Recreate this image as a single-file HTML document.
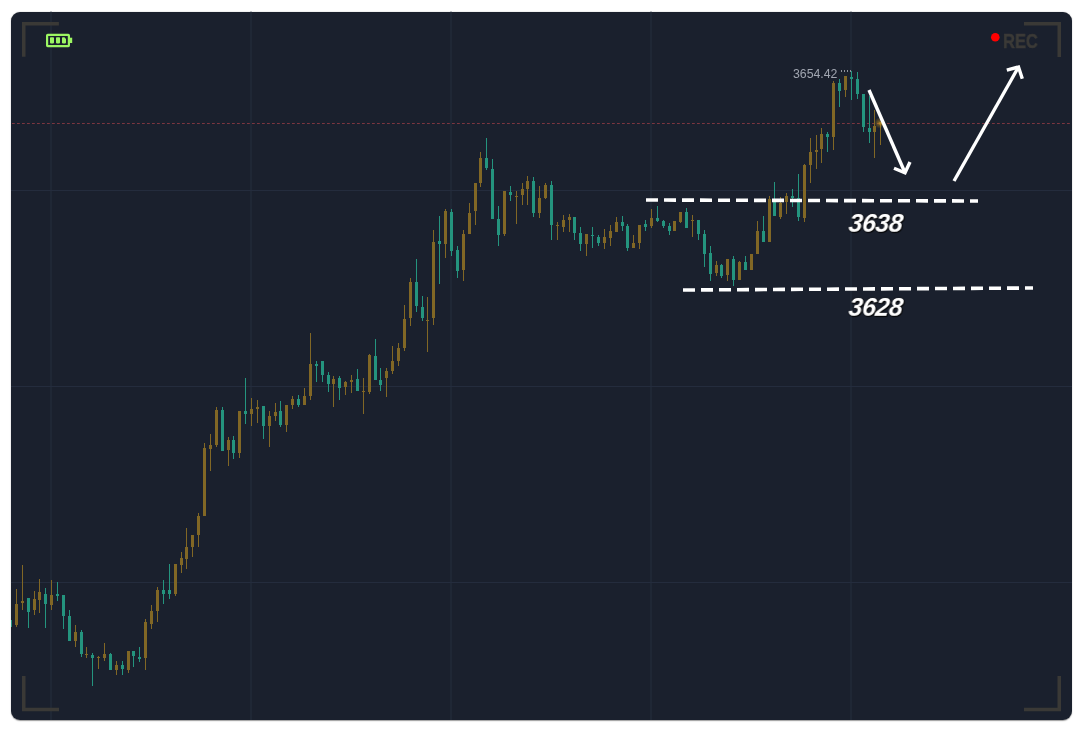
<!DOCTYPE html>
<html><head><meta charset="utf-8">
<style>
html,body{margin:0;padding:0;background:#ffffff;}
body{width:1083px;height:732px;position:relative;overflow:hidden;font-family:"Liberation Sans",sans-serif;}
.card{position:absolute;left:11px;top:11.5px;width:1061px;height:708.9px;background:#1a202d;border-radius:9px;box-shadow:0 0.3px 1.2px rgba(0,0,0,0.4);}
svg{position:absolute;left:0;top:0;}
.rec{position:absolute;font:bold 19.6px/1 "Liberation Sans",sans-serif;color:#3b3a37;-webkit-text-stroke:0.5px #3b3a37;transform-origin:0 0;transform:scaleX(0.84);will-change:transform;}
.lbl{position:absolute;font:italic bold 25px/1 "Liberation Sans",sans-serif;color:#ffffff;text-shadow:0 0 2px #000,1px 1px 1px #000;will-change:transform;transform-origin:0 20px;transform:skewX(-7deg);letter-spacing:-0.5px;}
.price{position:absolute;font:12.3px/1 "Liberation Sans",sans-serif;color:#a0a5b0;will-change:transform;}
</style></head><body>
<div class="card"></div>
<svg width="1083" height="732" viewBox="0 0 1083 732">
<defs>
<clipPath id="cc"><rect x="11" y="11.5" width="1061" height="708.9" rx="9"/></clipPath>
<radialGradient id="glow"><stop offset="0" stop-color="#e0a524" stop-opacity="0.6"/><stop offset="0.55" stop-color="#c8921c" stop-opacity="0.3"/><stop offset="1" stop-color="#c8921c" stop-opacity="0"/></radialGradient>
</defs>
<g clip-path="url(#cc)">
<g fill="#242f3e">
<rect x="50.5" y="11" width="1" height="709"/>
<rect x="250.5" y="11" width="1" height="709"/>
<rect x="450.5" y="11" width="1" height="709"/>
<rect x="650.5" y="11" width="1" height="709"/>
<rect x="850.5" y="11" width="1" height="709"/>
</g>
<g fill="#242c3d">
<rect x="11" y="190" width="1061" height="1"/>
<rect x="11" y="386" width="1061" height="1"/>
<rect x="11" y="582" width="1061" height="1"/>
</g>
<line x1="12" y1="123.5" x2="1072" y2="123.5" stroke="#7c3640" stroke-width="1" stroke-dasharray="2.8 2.2"/>
<g fill="#24947e"><rect x="10" y="620" width="1" height="7"/><rect x="9" y="620" width="3" height="7"/><rect x="28" y="598" width="1" height="30"/><rect x="27" y="598" width="3" height="14"/><rect x="45" y="588" width="1" height="40"/><rect x="44" y="594" width="3" height="10"/><rect x="57" y="582" width="1" height="19"/><rect x="56" y="594" width="3" height="2"/><rect x="63" y="595" width="1" height="34"/><rect x="62" y="595" width="3" height="21"/><rect x="69" y="610" width="1" height="31"/><rect x="68" y="616" width="3" height="25"/><rect x="81" y="630" width="1" height="27"/><rect x="80" y="632" width="3" height="22"/><rect x="92" y="653" width="1" height="33"/><rect x="91" y="655" width="3" height="3"/><rect x="110" y="653" width="1" height="17"/><rect x="109" y="654" width="3" height="16"/><rect x="122" y="661" width="1" height="14"/><rect x="121" y="665" width="3" height="4"/><rect x="133" y="651" width="1" height="16"/><rect x="132" y="651" width="3" height="5"/><rect x="139" y="647" width="1" height="15"/><rect x="138" y="657" width="3" height="2"/><rect x="163" y="580" width="1" height="24"/><rect x="162" y="590" width="3" height="4"/><rect x="169" y="564" width="1" height="35"/><rect x="168" y="590" width="3" height="4"/><rect x="222" y="407" width="1" height="44"/><rect x="221" y="410" width="3" height="41"/><rect x="233" y="436" width="1" height="23"/><rect x="232" y="440" width="3" height="13"/><rect x="245" y="378" width="1" height="46"/><rect x="244" y="411" width="3" height="3"/><rect x="263" y="406" width="1" height="33"/><rect x="262" y="406" width="3" height="20"/><rect x="280" y="401" width="1" height="26"/><rect x="279" y="411" width="3" height="14"/><rect x="298" y="395" width="1" height="12"/><rect x="297" y="399" width="3" height="6"/><rect x="316" y="361" width="1" height="21"/><rect x="315" y="364" width="3" height="2"/><rect x="322" y="361" width="1" height="21"/><rect x="321" y="361" width="3" height="14"/><rect x="328" y="372" width="1" height="20"/><rect x="327" y="375" width="3" height="9"/><rect x="339" y="376" width="1" height="24"/><rect x="338" y="378" width="3" height="10"/><rect x="357" y="369" width="1" height="22"/><rect x="356" y="379" width="3" height="12"/><rect x="375" y="339" width="1" height="41"/><rect x="374" y="356" width="3" height="24"/><rect x="380" y="368" width="1" height="23"/><rect x="379" y="380" width="3" height="5"/><rect x="416" y="259" width="1" height="53"/><rect x="415" y="282" width="3" height="24"/><rect x="422" y="296" width="1" height="25"/><rect x="421" y="307" width="3" height="11"/><rect x="439" y="216" width="1" height="68"/><rect x="438" y="241" width="3" height="3"/><rect x="451" y="209" width="1" height="47"/><rect x="450" y="212" width="3" height="39"/><rect x="457" y="246" width="1" height="32"/><rect x="456" y="250" width="3" height="21"/><rect x="486" y="138" width="1" height="32"/><rect x="485" y="158" width="3" height="10"/><rect x="492" y="159" width="1" height="60"/><rect x="491" y="169" width="3" height="50"/><rect x="498" y="206" width="1" height="40"/><rect x="497" y="219" width="3" height="16"/><rect x="510" y="186" width="1" height="15"/><rect x="509" y="192" width="3" height="3"/><rect x="533" y="177" width="1" height="40"/><rect x="532" y="181" width="3" height="32"/><rect x="551" y="181" width="1" height="59"/><rect x="550" y="185" width="3" height="40"/><rect x="574" y="217" width="1" height="23"/><rect x="573" y="217" width="3" height="16"/><rect x="580" y="227" width="1" height="24"/><rect x="579" y="233" width="3" height="11"/><rect x="592" y="227" width="1" height="21"/><rect x="591" y="235" width="3" height="1"/><rect x="598" y="235" width="1" height="11"/><rect x="597" y="237" width="3" height="6"/><rect x="622" y="216" width="1" height="15"/><rect x="621" y="222" width="3" height="4"/><rect x="627" y="224" width="1" height="27"/><rect x="626" y="226" width="3" height="22"/><rect x="645" y="220" width="1" height="11"/><rect x="644" y="224" width="3" height="3"/><rect x="657" y="206" width="1" height="16"/><rect x="656" y="218" width="3" height="3"/><rect x="663" y="220" width="1" height="8"/><rect x="662" y="221" width="3" height="5"/><rect x="669" y="223" width="1" height="12"/><rect x="668" y="226" width="3" height="5"/><rect x="686" y="208" width="1" height="20"/><rect x="685" y="212" width="3" height="16"/><rect x="698" y="220" width="1" height="20"/><rect x="697" y="220" width="3" height="14"/><rect x="704" y="230" width="1" height="37"/><rect x="703" y="234" width="3" height="20"/><rect x="710" y="246" width="1" height="35"/><rect x="709" y="253" width="3" height="21"/><rect x="721" y="264" width="1" height="14"/><rect x="720" y="265" width="3" height="11"/><rect x="733" y="256" width="1" height="30"/><rect x="732" y="259" width="3" height="21"/><rect x="745" y="256" width="1" height="14"/><rect x="744" y="262" width="3" height="8"/><rect x="763" y="216" width="1" height="26"/><rect x="762" y="231" width="3" height="11"/><rect x="774" y="182" width="1" height="34"/><rect x="773" y="201" width="3" height="15"/><rect x="792" y="189" width="1" height="18"/><rect x="791" y="196" width="3" height="2"/><rect x="798" y="174" width="1" height="47"/><rect x="797" y="198" width="3" height="19"/><rect x="827" y="132" width="1" height="20"/><rect x="826" y="134" width="3" height="3"/><rect x="839" y="79" width="1" height="28"/><rect x="838" y="83" width="3" height="8"/><rect x="851" y="71" width="1" height="29"/><rect x="850" y="77" width="3" height="2"/><rect x="857" y="72" width="1" height="27"/><rect x="856" y="79" width="3" height="15"/><rect x="863" y="94" width="1" height="38"/><rect x="862" y="94" width="3" height="33"/><rect x="869" y="96" width="1" height="47"/><rect x="868" y="128" width="3" height="4"/></g><g fill="#816725"><rect x="16" y="589" width="1" height="38"/><rect x="15" y="604" width="3" height="21"/><rect x="22" y="565" width="1" height="45"/><rect x="21" y="601" width="3" height="2"/><rect x="34" y="591" width="1" height="24"/><rect x="33" y="599" width="3" height="11"/><rect x="39" y="579" width="1" height="34"/><rect x="38" y="592" width="3" height="8"/><rect x="51" y="580" width="1" height="30"/><rect x="50" y="595" width="3" height="10"/><rect x="75" y="625" width="1" height="22"/><rect x="74" y="632" width="3" height="9"/><rect x="86" y="647" width="1" height="11"/><rect x="85" y="654" width="3" height="1"/><rect x="98" y="656" width="1" height="13"/><rect x="97" y="657" width="3" height="1"/><rect x="104" y="643" width="1" height="18"/><rect x="103" y="654" width="3" height="4"/><rect x="116" y="661" width="1" height="14"/><rect x="115" y="665" width="3" height="5"/><rect x="128" y="651" width="1" height="22"/><rect x="127" y="651" width="3" height="19"/><rect x="145" y="619" width="1" height="51"/><rect x="144" y="622" width="3" height="36"/><rect x="151" y="605" width="1" height="24"/><rect x="150" y="611" width="3" height="13"/><rect x="157" y="587" width="1" height="35"/><rect x="156" y="590" width="3" height="21"/><rect x="175" y="564" width="1" height="32"/><rect x="174" y="564" width="3" height="30"/><rect x="181" y="552" width="1" height="21"/><rect x="180" y="558" width="3" height="7"/><rect x="186" y="528" width="1" height="41"/><rect x="185" y="547" width="3" height="12"/><rect x="192" y="535" width="1" height="22"/><rect x="191" y="535" width="3" height="12"/><rect x="198" y="513" width="1" height="34"/><rect x="197" y="516" width="3" height="19"/><rect x="204" y="443" width="1" height="73"/><rect x="203" y="448" width="3" height="68"/><rect x="210" y="434" width="1" height="37"/><rect x="209" y="445" width="3" height="4"/><rect x="216" y="407" width="1" height="40"/><rect x="215" y="410" width="3" height="35"/><rect x="228" y="437" width="1" height="29"/><rect x="227" y="440" width="3" height="10"/><rect x="239" y="411" width="1" height="47"/><rect x="238" y="411" width="3" height="42"/><rect x="251" y="398" width="1" height="28"/><rect x="250" y="409" width="3" height="5"/><rect x="257" y="400" width="1" height="23"/><rect x="256" y="407" width="3" height="2"/><rect x="269" y="411" width="1" height="36"/><rect x="268" y="416" width="3" height="10"/><rect x="275" y="403" width="1" height="18"/><rect x="274" y="412" width="3" height="4"/><rect x="286" y="405" width="1" height="27"/><rect x="285" y="405" width="3" height="20"/><rect x="292" y="396" width="1" height="13"/><rect x="291" y="399" width="3" height="6"/><rect x="304" y="388" width="1" height="17"/><rect x="303" y="396" width="3" height="9"/><rect x="310" y="333" width="1" height="67"/><rect x="309" y="364" width="3" height="32"/><rect x="333" y="376" width="1" height="31"/><rect x="332" y="379" width="3" height="5"/><rect x="345" y="381" width="1" height="14"/><rect x="344" y="382" width="3" height="5"/><rect x="351" y="375" width="1" height="18"/><rect x="350" y="380" width="3" height="2"/><rect x="363" y="378" width="1" height="36"/><rect x="362" y="391" width="3" height="1"/><rect x="369" y="354" width="1" height="40"/><rect x="368" y="355" width="3" height="37"/><rect x="386" y="368" width="1" height="29"/><rect x="385" y="371" width="3" height="7"/><rect x="392" y="346" width="1" height="28"/><rect x="391" y="361" width="3" height="10"/><rect x="398" y="343" width="1" height="23"/><rect x="397" y="348" width="3" height="13"/><rect x="404" y="305" width="1" height="46"/><rect x="403" y="319" width="3" height="29"/><rect x="410" y="278" width="1" height="48"/><rect x="409" y="282" width="3" height="36"/><rect x="427" y="297" width="1" height="55"/><rect x="426" y="320" width="3" height="1"/><rect x="433" y="230" width="1" height="95"/><rect x="432" y="242" width="3" height="76"/><rect x="445" y="209" width="1" height="49"/><rect x="444" y="211" width="3" height="33"/><rect x="463" y="230" width="1" height="51"/><rect x="462" y="234" width="3" height="36"/><rect x="469" y="203" width="1" height="31"/><rect x="468" y="213" width="3" height="21"/><rect x="475" y="183" width="1" height="42"/><rect x="474" y="183" width="3" height="28"/><rect x="480" y="152" width="1" height="35"/><rect x="479" y="158" width="3" height="25"/><rect x="504" y="191" width="1" height="45"/><rect x="503" y="191" width="3" height="43"/><rect x="516" y="191" width="1" height="33"/><rect x="515" y="196" width="3" height="1"/><rect x="522" y="183" width="1" height="22"/><rect x="521" y="189" width="3" height="6"/><rect x="527" y="176" width="1" height="29"/><rect x="526" y="181" width="3" height="8"/><rect x="539" y="186" width="1" height="32"/><rect x="538" y="198" width="3" height="15"/><rect x="545" y="183" width="1" height="16"/><rect x="544" y="185" width="3" height="13"/><rect x="557" y="222" width="1" height="18"/><rect x="556" y="225" width="3" height="1"/><rect x="563" y="215" width="1" height="17"/><rect x="562" y="220" width="3" height="7"/><rect x="569" y="214" width="1" height="18"/><rect x="568" y="217" width="3" height="3"/><rect x="586" y="234" width="1" height="22"/><rect x="585" y="234" width="3" height="10"/><rect x="604" y="229" width="1" height="20"/><rect x="603" y="237" width="3" height="6"/><rect x="610" y="225" width="1" height="21"/><rect x="609" y="231" width="3" height="7"/><rect x="616" y="217" width="1" height="15"/><rect x="615" y="222" width="3" height="10"/><rect x="633" y="235" width="1" height="13"/><rect x="632" y="243" width="3" height="5"/><rect x="639" y="225" width="1" height="24"/><rect x="638" y="225" width="3" height="18"/><rect x="651" y="209" width="1" height="19"/><rect x="650" y="218" width="3" height="8"/><rect x="674" y="221" width="1" height="10"/><rect x="673" y="221" width="3" height="10"/><rect x="680" y="212" width="1" height="11"/><rect x="679" y="212" width="3" height="10"/><rect x="692" y="215" width="1" height="22"/><rect x="691" y="220" width="3" height="1"/><rect x="716" y="261" width="1" height="15"/><rect x="715" y="265" width="3" height="8"/><rect x="727" y="259" width="1" height="22"/><rect x="726" y="259" width="3" height="16"/><rect x="739" y="261" width="1" height="19"/><rect x="738" y="262" width="3" height="18"/><rect x="751" y="254" width="1" height="16"/><rect x="750" y="254" width="3" height="16"/><rect x="757" y="221" width="1" height="33"/><rect x="756" y="231" width="3" height="23"/><rect x="769" y="196" width="1" height="46"/><rect x="768" y="199" width="3" height="43"/><rect x="780" y="197" width="1" height="22"/><rect x="779" y="203" width="3" height="14"/><rect x="786" y="193" width="1" height="21"/><rect x="785" y="196" width="3" height="6"/><rect x="804" y="164" width="1" height="58"/><rect x="803" y="165" width="3" height="53"/><rect x="810" y="138" width="1" height="45"/><rect x="809" y="152" width="3" height="13"/><rect x="816" y="135" width="1" height="34"/><rect x="815" y="150" width="3" height="2"/><rect x="821" y="128" width="1" height="35"/><rect x="820" y="134" width="3" height="15"/><rect x="833" y="81" width="1" height="69"/><rect x="832" y="83" width="3" height="54"/><rect x="845" y="76" width="1" height="21"/><rect x="844" y="76" width="3" height="14"/><rect x="874" y="110" width="1" height="48"/><rect x="873" y="126" width="3" height="6"/><rect x="880" y="122" width="1" height="23"/><rect x="879" y="122.5" width="3" height="2"/></g>
<circle cx="879.5" cy="123" r="5.5" fill="url(#glow)"/>
<g fill="#8e929c"><rect x="841" y="70" width="1" height="2"/><rect x="844" y="70" width="1" height="2"/><rect x="847" y="70" width="1" height="2"/><rect x="850" y="70" width="1" height="2"/></g>
<line x1="646" y1="200" x2="978" y2="201" stroke="#ffffff" stroke-width="3.6" stroke-dasharray="12 6"/>
<line x1="683" y1="290" x2="1033" y2="288" stroke="#ffffff" stroke-width="3.6" stroke-dasharray="12 6"/>
<g fill="none" stroke="#ffffff" stroke-width="3.4" stroke-linejoin="miter">
<path d="M869,90 L905,172.8"/>
<path d="M894,168.2 L905,172.8 L910,162"/>
<path d="M954,181 L1018.5,67"/>
<path d="M1006.8,70.2 L1018.5,67 L1022.3,78.8"/>
</g>
<g fill="none" stroke="#3a3936" stroke-width="3.5">
<path d="M23.75,56.8 V23.75 H58.9"/>
<path d="M1024,23.75 H1059.25 V57"/>
<path d="M23.75,676 V709.45 H59"/>
<path d="M1024,709.45 H1059.25 V676"/>
</g>
<g>
<rect x="47.1" y="34.95" width="21.8" height="11.1" rx="0.6" fill="none" stroke="#9cf662" stroke-width="2.2"/>
<rect x="70" y="37.7" width="2.2" height="5.3" fill="#9cf662"/>
<rect x="50" y="37.3" width="4" height="6.1" rx="0.8" fill="#9cf662"/>
<rect x="56" y="37.3" width="4" height="6.1" rx="0.8" fill="#9cf662"/>
<path d="M62,38.1 a0.8,0.8 0 0 1 0.8,-0.8 h1.6 l1.6,1.8 v3.5 a0.8,0.8 0 0 1 -0.8,0.8 h-2.4 a0.8,0.8 0 0 1 -0.8,-0.8 z" fill="#9cf662"/>
</g>
<circle cx="995.3" cy="37.3" r="4.3" fill="#ff0000"/>
</g>
</svg>
<div class="rec" style="left:1003px;top:32.3px;">REC</div>
<div class="lbl" style="left:848px;top:211px;">3638</div>
<div class="lbl" style="left:848px;top:295px;">3628</div>
<div class="price" style="left:793px;top:68px;">3654.42</div>
</body></html>
